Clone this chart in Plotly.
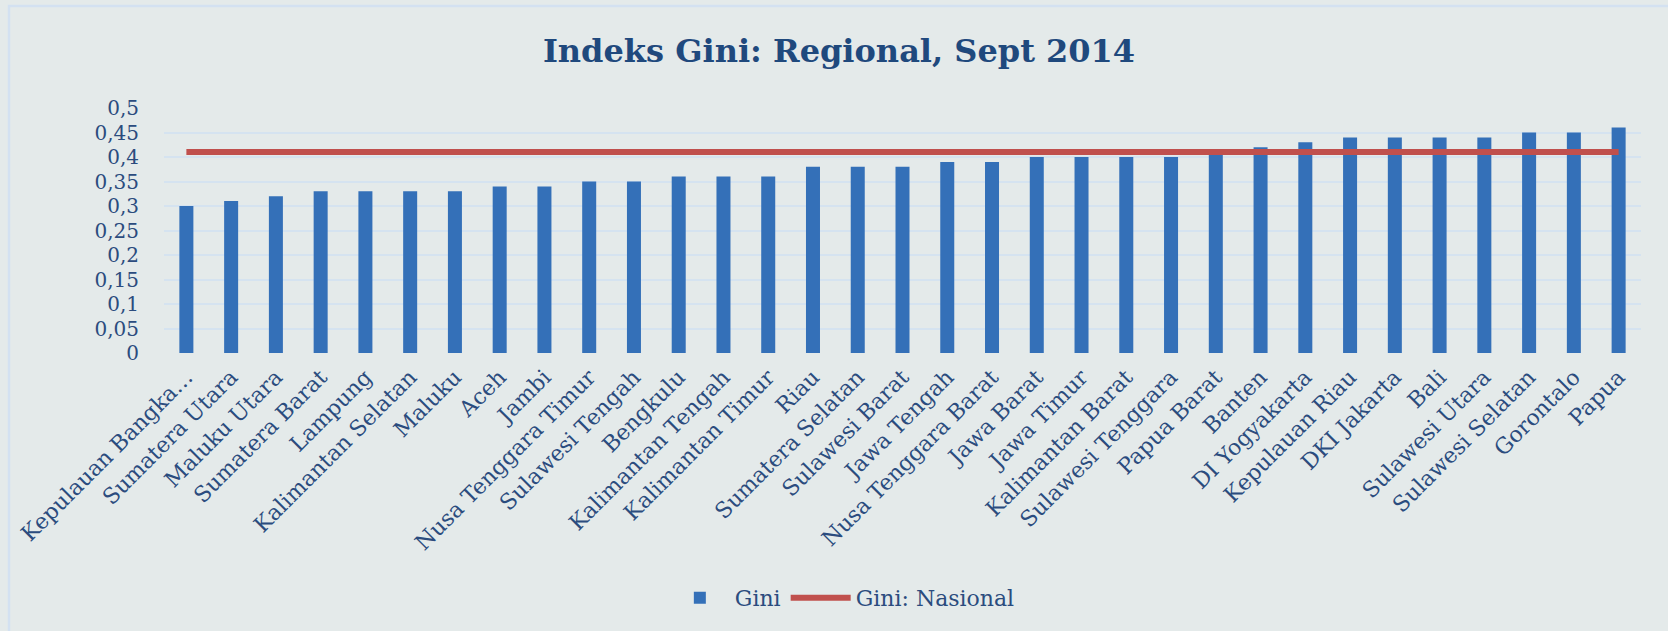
import plotly.graph_objects as go

provinces = [
    "Kepulauan Bangka\u2026", "Sumatera Utara", "Maluku Utara", "Sumatera Barat",
    "Lampung", "Kalimantan Selatan", "Maluku", "Aceh", "Jambi",
    "Nusa Tenggara Timur", "Sulawesi Tengah", "Bengkulu", "Kalimantan Tengah",
    "Kalimantan Timur", "Riau", "Sumatera Selatan", "Sulawesi Barat",
    "Jawa Tengah", "Nusa Tenggara Barat", "Jawa Barat", "Jawa Timur",
    "Kalimantan Barat", "Sulawesi Tenggara", "Papua Barat", "Banten",
    "DI Yogyakarta", "Kepulauan Riau", "DKI Jakarta", "Bali",
    "Sulawesi Utara", "Sulawesi Selatan", "Gorontalo", "Papua",
]
gini = [
    0.30, 0.31, 0.32, 0.33, 0.33, 0.33, 0.33, 0.34, 0.34, 0.35, 0.35, 0.36,
    0.36, 0.36, 0.38, 0.38, 0.38, 0.39, 0.39, 0.40, 0.40, 0.40, 0.40, 0.41,
    0.42, 0.43, 0.44, 0.44, 0.44, 0.44, 0.45, 0.45, 0.46,
]
gini_nasional = [0.41] * len(provinces)

y_tick_vals = [0, 0.05, 0.1, 0.15, 0.2, 0.25, 0.3, 0.35, 0.4, 0.45, 0.5]
y_tick_text = ["0", "0,05", "0,1", "0,15", "0,2", "0,25", "0,3", "0,35", "0,4", "0,45", "0,5"]

title_text = "Indeks Gini: Regional, Sept 2014"

SERIF = "DejaVu Serif, serif"
TEXT_COLOR = "#2B4C7E"
BG = "#E4EAEA"
GRID = "#D5E3F0"

fig = go.Figure()
fig.add_trace(go.Bar(
    x=provinces, y=gini, name="Gini",
    marker=dict(color="#3470B8", line=dict(width=0)),
))
fig.add_trace(go.Scatter(
    x=provinces, y=gini_nasional, name="Gini: Nasional", mode="lines",
    line=dict(color="#C0504D", width=6),
))

fig.update_layout(
    width=1668, height=631,
    paper_bgcolor=BG, plot_bgcolor=BG,
    margin=dict(l=164, r=27, t=108, b=278),
    bargap=0.687,
    separators=", ",
    font=dict(family=SERIF, color=TEXT_COLOR, size=20),
    title=dict(
        text="<b>" + title_text + "</b>",
        x=0.503, xanchor="center", xref="container",
        y=1 - 51 / 631, yanchor="middle", yref="container",
        font=dict(family=SERIF, size=32, color="#1F497D"),
    ),
    showlegend=True,
    legend=dict(
        orientation="h", xref="container", yref="container",
        x=0.505, xanchor="center", y=(631 - 598) / 631, yanchor="middle",
        font=dict(family=SERIF, size=22, color=TEXT_COLOR),
        bgcolor="rgba(0,0,0,0)", itemwidth=60,
    ),
    xaxis=dict(
        tickangle=-45, showgrid=False, showline=False, zeroline=False,
        ticks="", ticklabelstandoff=6,
        tickfont=dict(family=SERIF, size=22, color=TEXT_COLOR),
    ),
    yaxis=dict(
        range=[0, 0.5], tickvals=y_tick_vals, ticktext=y_tick_text,
        showgrid=True, gridcolor=GRID, gridwidth=1.5, zeroline=False,
        showline=False, ticks="", ticklabelstandoff=24,
        tickfont=dict(family=SERIF, size=20, color=TEXT_COLOR),
    ),
    shapes=[dict(
        type="rect", xref="paper", yref="paper",
        x0=(9 - 164) / 1477, x1=(1680 - 164) / 1477,
        y0=(353 - 650) / 245, y1=(353 - 6) / 245,
        line=dict(color="#D3E1F1", width=2.5), fillcolor="rgba(0,0,0,0)",
        layer="below",
    )],
)

fig.write_html(
    "out.html",
    config={"displayModeBar": False},
    post_script="document.body.style.margin='0';",
)
